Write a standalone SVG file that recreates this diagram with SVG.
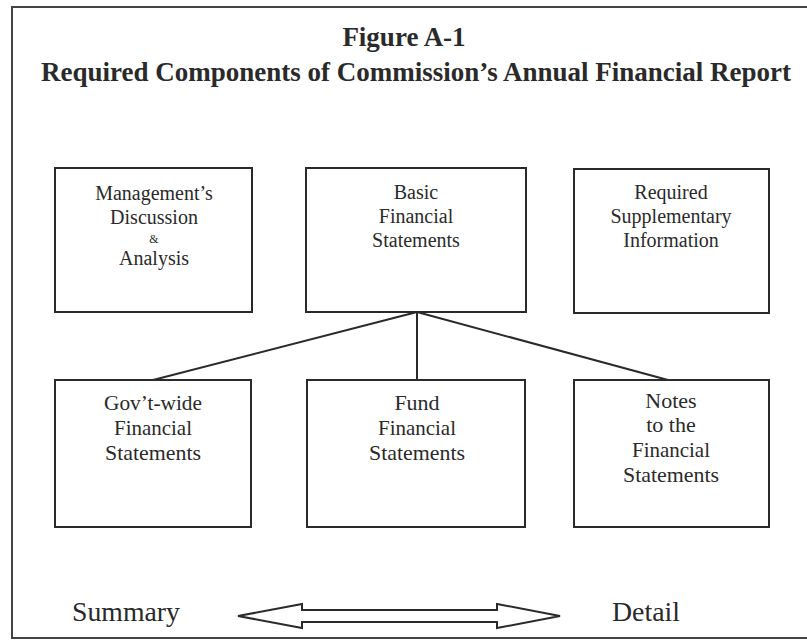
<svg xmlns="http://www.w3.org/2000/svg" width="807" height="640" viewBox="0 0 807 640">
<style>
.box{fill:#fff;stroke:#2a2a2a;stroke-width:2}
.t{font-family:"Liberation Serif","Times New Roman",serif;font-size:20px;fill:#2a2a2a;text-anchor:middle}
.b{font-family:"Liberation Serif","Times New Roman",serif;font-size:22px;fill:#2a2a2a;text-anchor:middle}
.h{font-family:"Liberation Serif","Times New Roman",serif;font-weight:bold;font-size:27px;fill:#2a2a2a;text-anchor:middle}
.con{stroke:#2a2a2a;stroke-width:2;fill:none}
</style>
<rect width="807" height="640" fill="#fff"/>
<g id="frame" fill="none" stroke="#444" stroke-width="2">
<polyline points="812,7 12,7 12,638 812,638"/>
</g>
<g id="title">
<text class="h" x="404" y="46">Figure A-1</text>
<text class="h" x="416" y="81">Required Components of Commission’s Annual Financial Report</text>
</g>
<g id="connectors">
<line class="con" x1="417" y1="312" x2="153" y2="380"/>
<line class="con" x1="417" y1="312" x2="417" y2="380"/>
<line class="con" x1="417" y1="312" x2="668" y2="380"/>
</g>
<g id="mda">
<rect class="box" x="55" y="168" width="197" height="144"/>
<text class="t" x="154" y="200">Management’s</text>
<text class="t" x="154" y="224">Discussion</text>
<text class="t" x="154" y="243" style="font-size:12px">&amp;</text>
<text class="t" x="154" y="265">Analysis</text>
</g>
<g id="bfs">
<rect class="box" x="306" y="168" width="220" height="144"/>
<text class="t" x="416" y="199">Basic</text>
<text class="t" x="416" y="223">Financial</text>
<text class="t" x="416" y="247">Statements</text>
</g>
<g id="rsi">
<rect class="box" x="574" y="169" width="195" height="144"/>
<text class="t" x="671" y="199">Required</text>
<text class="t" x="671" y="223">Supplementary</text>
<text class="t" x="671" y="247">Information</text>
</g>
<g id="gov">
<rect class="box" x="55" y="380" width="196" height="147"/>
<text class="b" x="153" y="410" textLength="98" lengthAdjust="spacingAndGlyphs">Gov’t-wide</text>
<text class="b" x="153" y="435" textLength="78" lengthAdjust="spacingAndGlyphs">Financial</text>
<text class="b" x="153" y="460" textLength="96" lengthAdjust="spacingAndGlyphs">Statements</text>
</g>
<g id="fund">
<rect class="box" x="307" y="380" width="218" height="147"/>
<text class="b" x="417" y="410">Fund</text>
<text class="b" x="417" y="435" textLength="78" lengthAdjust="spacingAndGlyphs">Financial</text>
<text class="b" x="417" y="460" textLength="96" lengthAdjust="spacingAndGlyphs">Statements</text>
</g>
<g id="notes">
<rect class="box" x="574" y="380" width="195" height="147"/>
<text class="b" x="671" y="408">Notes</text>
<text class="b" x="671" y="432">to the</text>
<text class="b" x="671" y="457" textLength="78" lengthAdjust="spacingAndGlyphs">Financial</text>
<text class="b" x="671" y="482" textLength="96" lengthAdjust="spacingAndGlyphs">Statements</text>
</g>
<g id="scale">
<text class="t" x="126" y="621" style="font-size:27px" textLength="108" lengthAdjust="spacingAndGlyphs">Summary</text>
<path class="con" d="M238,616 L302,604 L302,610 L497,610 L497,604 L560,616 L497,628 L497,622 L302,622 L302,628 Z"/>
<text class="t" x="646" y="621" style="font-size:27px" textLength="68" lengthAdjust="spacingAndGlyphs">Detail</text>
</g>
</svg>
